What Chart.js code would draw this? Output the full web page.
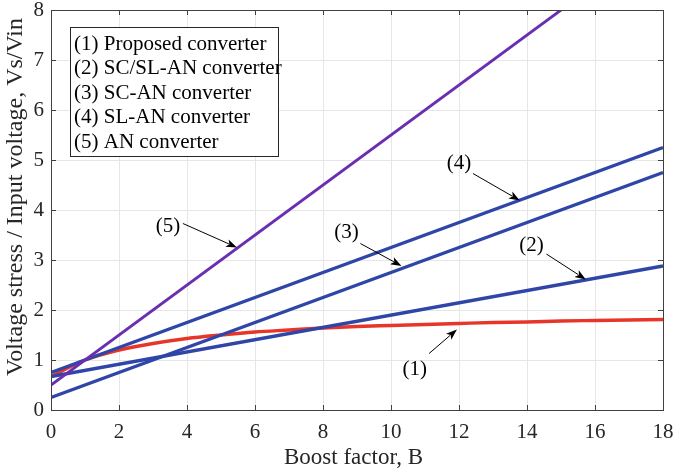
<!DOCTYPE html>
<html><head><meta charset="utf-8">
<script src="https://cdn.jsdelivr.net/npm/chart.js@4.4.1/dist/chart.umd.min.js"></script>
<style>html,body{margin:0;padding:0;background:#fff;} #wrap{width:676px;height:476px;}</style>
</head><body><div id="wrap"><canvas id="c" width="676" height="476"></canvas></div>
<script>
// ---- data ----
const legendLabels = ['(1) Proposed converter', '(2) SC/SL-AN converter', '(3) SC-AN converter', '(4) SL-AN converter', '(5) AN converter'];
const proposedB = [0,1,2,3,4,5,6,7,8,9,10,11,12,13,14,15,16,17,18];
const proposedV = [0.67,1.0,1.2,1.33,1.43,1.5,1.56,1.6,1.64,1.67,1.69,1.71,1.73,1.75,1.76,1.78,1.79,1.8,1.81];
const scslB = [0, 18];
const scslV = [0.67, 2.88];
const scB = [0, 18];
const scV = [0.25, 4.75];
const slB = [0, 18];
const slV = [0.75, 5.25];
const anB = [0, 15];
const anV = [0.5, 8.0];
const xTicks = [0,2,4,6,8,10,12,14,16,18];
const yTicks = [0,1,2,3,4,5,6,7,8];
const xTitle = 'Boost factor, B';
const yTitle = 'Voltage stress / Input voltage, Vs/Vin';
// annotation labels with text anchor and arrow (data coordinates)
const annLabels = ['(1)','(2)','(3)','(4)','(5)'];
const annText = [[10.70,0.81],[14.13,3.30],[8.69,3.55],[12.00,4.93],[3.44,3.68]];
const annFrom = [[11.12,1.13],[14.57,3.12],[9.10,3.33],[12.41,4.73],[3.88,3.73]];
const annTo   = [[11.94,1.61],[15.73,2.61],[10.31,2.88],[13.79,4.19],[5.47,3.25]];

const pts = (xs, ys) => xs.map((x,i)=>({x:x, y:ys[i]}));
const FONT = "'Liberation Serif', 'Times New Roman', serif";
Chart.defaults.font.family = FONT;
Chart.defaults.color = '#262626';

const BLUE = '#2f45a8', RED = '#e8352a', PURPLE = '#6a2fb0';

const framePlugin = {
  id: 'frame',
  afterDatasetsDraw(chart) {
    const {ctx, chartArea: a, scales: {x, y}} = chart;
    ctx.save();
    // box
    ctx.strokeStyle = '#404040';
    ctx.lineWidth = 1;
    ctx.strokeRect(Math.round(a.left)+0.5, Math.round(a.top)+0.5, Math.round(a.right-a.left), Math.round(a.bottom-a.top));
    // inward ticks
    const tl = 5;
    ctx.beginPath();
    xTicks.forEach(v => {
      const px = Math.round(x.getPixelForValue(v))+0.5;
      ctx.moveTo(px, a.bottom); ctx.lineTo(px, a.bottom - tl);
      ctx.moveTo(px, a.top); ctx.lineTo(px, a.top + tl);
    });
    yTicks.forEach(v => {
      const py = Math.round(y.getPixelForValue(v))+0.5;
      ctx.moveTo(a.left, py); ctx.lineTo(a.left + tl, py);
      ctx.moveTo(a.right, py); ctx.lineTo(a.right - tl, py);
    });
    ctx.stroke();
    // axis titles
    ctx.fillStyle = '#262626';
    ctx.textAlign = 'center'; ctx.textBaseline = 'middle';
    ctx.font = "23px " + FONT;
    ctx.fillText(xTitle, a.left + 302.5, a.bottom + 48);
    ctx.save();
    ctx.translate(15.5, a.top + 187);
    ctx.rotate(-Math.PI/2);
    ctx.font = "24px " + FONT;
    ctx.fillText(yTitle, 0, 0);
    ctx.restore();
    // legend
    const lx = a.left + 19, ly = a.top + 17, lw = 208, lh = 129;
    ctx.fillStyle = '#fff';
    ctx.fillRect(lx, ly, lw, lh);
    ctx.strokeStyle = '#262626';
    ctx.strokeRect(lx+0.5, ly+0.5, lw, lh);
    ctx.fillStyle = '#000';
    ctx.font = "21px " + FONT;
    ctx.textBaseline = 'middle';
    ctx.textAlign = 'left';
    legendLabels.forEach((t,i) => ctx.fillText(t, lx + 4, ly + 17 + i*24.5));
    // annotations
    ctx.textAlign = 'center';
    ctx.font = "21px " + FONT;
    annLabels.forEach((t,i) => {
      const tx = x.getPixelForValue(annText[i][0]), ty = y.getPixelForValue(annText[i][1]);
      ctx.fillText(t, tx, ty);
      const x1 = x.getPixelForValue(annFrom[i][0]), y1 = y.getPixelForValue(annFrom[i][1]);
      const x2 = x.getPixelForValue(annTo[i][0]), y2 = y.getPixelForValue(annTo[i][1]);
      const ang = Math.atan2(y2-y1, x2-x1);
      const hl = 11, hw = 4;
      ctx.strokeStyle = '#000'; ctx.lineWidth = 1;
      ctx.beginPath(); ctx.moveTo(x1,y1);
      ctx.lineTo(x2 - hl*Math.cos(ang)*0.8, y2 - hl*Math.sin(ang)*0.8); ctx.stroke();
      ctx.beginPath();
      ctx.moveTo(x2, y2);
      ctx.lineTo(x2 - hl*Math.cos(ang) + hw*Math.sin(ang), y2 - hl*Math.sin(ang) - hw*Math.cos(ang));
      ctx.lineTo(x2 - hl*Math.cos(ang)*0.75, y2 - hl*Math.sin(ang)*0.75);
      ctx.lineTo(x2 - hl*Math.cos(ang) - hw*Math.sin(ang), y2 - hl*Math.sin(ang) + hw*Math.cos(ang));
      ctx.closePath(); ctx.fillStyle = '#000'; ctx.fill();
    });
    ctx.restore();
  }
};

const ds = (label, data, color, w, order, tension) => ({
  label, data, borderColor: color, backgroundColor: color, borderWidth: w,
  pointRadius: 0, pointHoverRadius: 0, fill: false, order,
  tension: tension || 0, cubicInterpolationMode: tension ? 'monotone' : 'default'
});

const zeroPad = s => { s.paddingTop = 0; s.paddingBottom = 0; s.paddingLeft = 0; s.paddingRight = 0; };

new Chart(document.getElementById('c'), {
  type: 'line',
  data: {
    datasets: [
      ds(legendLabels[4], pts(anB, anV), PURPLE, 2.8, 1),
      ds(legendLabels[3], pts(slB, slV), BLUE, 3.4, 2),
      ds(legendLabels[2], pts(scB, scV), BLUE, 3.4, 3),
      ds(legendLabels[1], pts(scslB, scslV), BLUE, 3.4, 4),
      ds(legendLabels[0], pts(proposedB, proposedV), RED, 3.4, 5, 0.4)
    ]
  },
  options: {
    responsive: false, animation: false, devicePixelRatio: 1,
    layout: { padding: { top: 10, right: 13, left: 0, bottom: 0 } },
    plugins: { legend: { display: false }, tooltip: { enabled: false } },
    scales: {
      x: {
        type: 'linear', min: 0, max: 18,
        afterBuildTicks: s => { s.ticks = xTicks.map(v => ({value: v})); },
        ticks: { font: { size: 21 }, color: '#262626', padding: 10, maxRotation: 0 },
        grid: { color: '#e6e6e6', drawTicks: false },
        border: { display: false },
        title: { display: false },
        afterFit: s => { s.height = 66; zeroPad(s); }
      },
      y: {
        type: 'linear', min: 0, max: 8,
        afterBuildTicks: s => { s.ticks = yTicks.map(v => ({value: v})); },
        ticks: { font: { size: 21 }, color: '#262626', padding: 7 },
        grid: { color: '#e6e6e6', drawTicks: false },
        border: { display: false },
        title: { display: false },
        afterFit: s => { s.width = 51; zeroPad(s); }
      }
    }
  },
  plugins: [framePlugin]
});
</script></body></html>
